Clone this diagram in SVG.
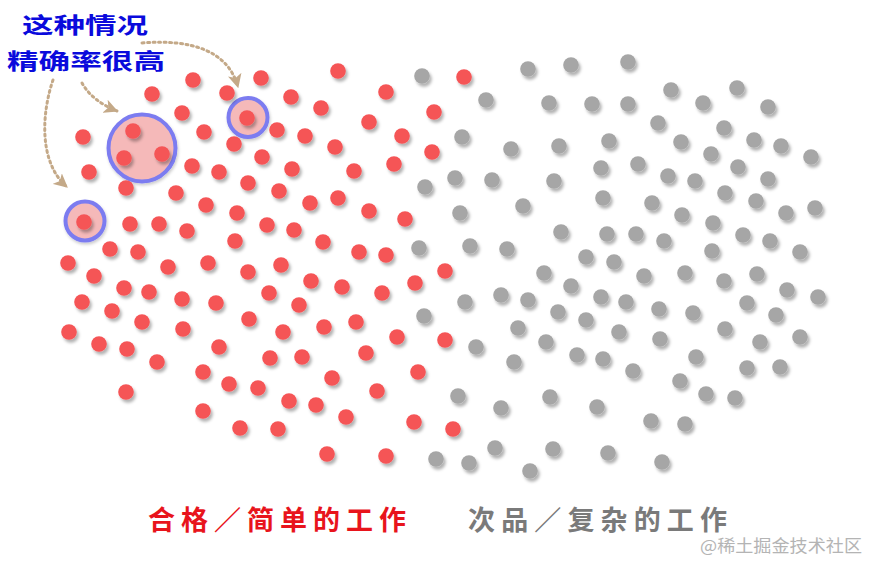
<svg xmlns="http://www.w3.org/2000/svg" width="880" height="573" viewBox="0 0 880 573">
<defs>
<filter id="sh" x="-50%" y="-50%" width="200%" height="200%">
<feDropShadow dx="2" dy="3" stdDeviation="1.8" flood-color="#000" flood-opacity="0.3"/>
</filter>
<filter id="sh2" x="-20%" y="-20%" width="140%" height="140%">
<feDropShadow dx="1" dy="2" stdDeviation="1.5" flood-color="#000" flood-opacity="0.2"/>
</filter>
<marker id="ah" viewBox="0 0 12 12" refX="11" refY="6" markerUnits="userSpaceOnUse" markerWidth="14" markerHeight="14" orient="auto">
<path d="M0,0 L12,6 L0,12 L3,6 z" fill="#c4a988"/>
</marker>
</defs>
<style>
.r{fill:#f55456;filter:url(#sh)}
.g{fill:#a6a6a6;filter:url(#sh)}
.hl{fill:#f5b9b9;stroke:#7c7cf0;stroke-width:4;filter:url(#sh2)}
.ar{fill:none;stroke:#c4a988;stroke-width:3;stroke-dasharray:2 3.5;stroke-linecap:round;marker-end:url(#ah)}
.cj{font-family:"Noto Sans CJK SC","Noto Sans",sans-serif;font-weight:700}
</style>
<rect width="880" height="573" fill="#fff"/>

<g id="highlights">
<circle class="hl" cx="142" cy="148" r="33.5"/>
<circle class="hl" cx="248" cy="117.5" r="19.5"/>
<circle class="hl" cx="85" cy="221" r="19.5"/>
</g>

<g id="connectors">
<path class="ar" d="M53,80 C42,112 38,162 67,187"/>
<path class="ar" d="M82,83 Q92,101 117,111"/>
<path class="ar" d="M142,43 C190,39 228,50 238,87"/>
</g>

<g id="good">
<circle class="r" cx="193" cy="80" r="7.8"/><circle class="r" cx="261" cy="78" r="7.8"/><circle class="r" cx="152" cy="94" r="7.8"/><circle class="r" cx="227" cy="93" r="7.8"/><circle class="r" cx="291" cy="97" r="7.8"/><circle class="r" cx="182" cy="113" r="7.8"/><circle class="r" cx="247" cy="118" r="7.8"/><circle class="r" cx="83" cy="137" r="7.8"/><circle class="r" cx="133" cy="131" r="7.8"/><circle class="r" cx="204" cy="132" r="7.8"/><circle class="r" cx="277" cy="130" r="7.8"/><circle class="r" cx="124" cy="158" r="7.8"/><circle class="r" cx="162" cy="154" r="7.8"/><circle class="r" cx="234" cy="144" r="7.8"/><circle class="r" cx="305" cy="136" r="7.8"/><circle class="r" cx="89" cy="172" r="7.8"/><circle class="r" cx="192" cy="166" r="7.8"/><circle class="r" cx="219" cy="172" r="7.8"/><circle class="r" cx="262" cy="157" r="7.8"/><circle class="r" cx="292" cy="169" r="7.8"/><circle class="r" cx="126" cy="188" r="7.8"/><circle class="r" cx="176" cy="193" r="7.8"/><circle class="r" cx="248" cy="183" r="7.8"/><circle class="r" cx="279" cy="191" r="7.8"/><circle class="r" cx="206" cy="205" r="7.8"/><circle class="r" cx="237" cy="213" r="7.8"/><circle class="r" cx="84" cy="222" r="7.8"/><circle class="r" cx="130" cy="224" r="7.8"/><circle class="r" cx="159" cy="224" r="7.8"/><circle class="r" cx="187" cy="231" r="7.8"/><circle class="r" cx="267" cy="225" r="7.8"/><circle class="r" cx="294" cy="230" r="7.8"/><circle class="r" cx="235" cy="241" r="7.8"/><circle class="r" cx="110" cy="249" r="7.8"/><circle class="r" cx="138" cy="252" r="7.8"/>
<circle class="r" cx="338" cy="71" r="7.8"/><circle class="r" cx="464" cy="77" r="7.8"/><circle class="r" cx="386" cy="92" r="7.8"/><circle class="r" cx="321" cy="108" r="7.8"/><circle class="r" cx="434" cy="112" r="7.8"/><circle class="r" cx="369" cy="122" r="7.8"/><circle class="r" cx="402" cy="136" r="7.8"/><circle class="r" cx="335" cy="147" r="7.8"/><circle class="r" cx="432" cy="152" r="7.8"/><circle class="r" cx="354" cy="171" r="7.8"/><circle class="r" cx="394" cy="164" r="7.8"/><circle class="r" cx="310" cy="203" r="7.8"/><circle class="r" cx="338" cy="198" r="7.8"/><circle class="r" cx="369" cy="211" r="7.8"/><circle class="r" cx="405" cy="219" r="7.8"/><circle class="r" cx="323" cy="242" r="7.8"/><circle class="r" cx="359" cy="252" r="7.8"/><circle class="r" cx="386" cy="255" r="7.8"/>
<circle class="r" cx="68" cy="263" r="7.8"/><circle class="r" cx="168" cy="267" r="7.8"/><circle class="r" cx="208" cy="263" r="7.8"/><circle class="r" cx="248" cy="272" r="7.8"/><circle class="r" cx="281" cy="265" r="7.8"/><circle class="r" cx="94" cy="276" r="7.8"/><circle class="r" cx="124" cy="288" r="7.8"/><circle class="r" cx="149" cy="292" r="7.8"/><circle class="r" cx="182" cy="299" r="7.8"/><circle class="r" cx="216" cy="303" r="7.8"/><circle class="r" cx="269" cy="293" r="7.8"/><circle class="r" cx="299" cy="305" r="7.8"/><circle class="r" cx="82" cy="302" r="7.8"/><circle class="r" cx="112" cy="311" r="7.8"/><circle class="r" cx="142" cy="322" r="7.8"/><circle class="r" cx="183" cy="329" r="7.8"/><circle class="r" cx="249" cy="319" r="7.8"/><circle class="r" cx="283" cy="332" r="7.8"/><circle class="r" cx="69" cy="332" r="7.8"/><circle class="r" cx="99" cy="344" r="7.8"/><circle class="r" cx="127" cy="349" r="7.8"/><circle class="r" cx="219" cy="347" r="7.8"/><circle class="r" cx="270" cy="358" r="7.8"/><circle class="r" cx="302" cy="357" r="7.8"/><circle class="r" cx="157" cy="362" r="7.8"/><circle class="r" cx="203" cy="372" r="7.8"/><circle class="r" cx="229" cy="384" r="7.8"/><circle class="r" cx="258" cy="388" r="7.8"/><circle class="r" cx="289" cy="401" r="7.8"/><circle class="r" cx="126" cy="392" r="7.8"/><circle class="r" cx="203" cy="411" r="7.8"/><circle class="r" cx="240" cy="428" r="7.8"/><circle class="r" cx="278" cy="429" r="7.8"/>
<circle class="r" cx="445" cy="271" r="7.8"/><circle class="r" cx="311" cy="281" r="7.8"/><circle class="r" cx="342" cy="287" r="7.8"/><circle class="r" cx="382" cy="293" r="7.8"/><circle class="r" cx="415" cy="283" r="7.8"/><circle class="r" cx="324" cy="327" r="7.8"/><circle class="r" cx="356" cy="322" r="7.8"/><circle class="r" cx="397" cy="337" r="7.8"/><circle class="r" cx="445" cy="340" r="7.8"/><circle class="r" cx="366" cy="353" r="7.8"/><circle class="r" cx="332" cy="378" r="7.8"/><circle class="r" cx="418" cy="372" r="7.8"/><circle class="r" cx="377" cy="391" r="7.8"/><circle class="r" cx="316" cy="405" r="7.8"/><circle class="r" cx="346" cy="417" r="7.8"/><circle class="r" cx="414" cy="422" r="7.8"/><circle class="r" cx="453" cy="429" r="7.8"/><circle class="r" cx="327" cy="454" r="7.8"/><circle class="r" cx="386" cy="456" r="7.8"/>
</g>

<g id="bad">
<circle class="g" cx="422" cy="76" r="7.8"/><circle class="g" cx="528" cy="69" r="7.8"/><circle class="g" cx="571" cy="65" r="7.8"/><circle class="g" cx="486" cy="100" r="7.8"/><circle class="g" cx="549" cy="103" r="7.8"/><circle class="g" cx="462" cy="137" r="7.8"/><circle class="g" cx="511" cy="149" r="7.8"/><circle class="g" cx="559" cy="146" r="7.8"/><circle class="g" cx="425" cy="187" r="7.8"/><circle class="g" cx="455" cy="178" r="7.8"/><circle class="g" cx="492" cy="180" r="7.8"/><circle class="g" cx="554" cy="181" r="7.8"/><circle class="g" cx="460" cy="213" r="7.8"/><circle class="g" cx="523" cy="206" r="7.8"/><circle class="g" cx="561" cy="232" r="7.8"/><circle class="g" cx="419" cy="248" r="7.8"/><circle class="g" cx="470" cy="246" r="7.8"/><circle class="g" cx="507" cy="249" r="7.8"/><circle class="g" cx="586" cy="257" r="7.8"/>
<circle class="g" cx="628" cy="62" r="7.8"/><circle class="g" cx="671" cy="90" r="7.8"/><circle class="g" cx="737" cy="88" r="7.8"/><circle class="g" cx="592" cy="104" r="7.8"/><circle class="g" cx="628" cy="104" r="7.8"/><circle class="g" cx="703" cy="103" r="7.8"/><circle class="g" cx="768" cy="107" r="7.8"/><circle class="g" cx="658" cy="123" r="7.8"/><circle class="g" cx="724" cy="128" r="7.8"/><circle class="g" cx="609" cy="141" r="7.8"/><circle class="g" cx="681" cy="142" r="7.8"/><circle class="g" cx="754" cy="140" r="7.8"/><circle class="g" cx="781" cy="146" r="7.8"/><circle class="g" cx="711" cy="154" r="7.8"/><circle class="g" cx="811" cy="157" r="7.8"/><circle class="g" cx="601" cy="168" r="7.8"/><circle class="g" cx="638" cy="164" r="7.8"/><circle class="g" cx="668" cy="176" r="7.8"/><circle class="g" cx="695" cy="181" r="7.8"/><circle class="g" cx="738" cy="167" r="7.8"/><circle class="g" cx="768" cy="179" r="7.8"/><circle class="g" cx="603" cy="198" r="7.8"/><circle class="g" cx="652" cy="203" r="7.8"/><circle class="g" cx="682" cy="215" r="7.8"/><circle class="g" cx="725" cy="193" r="7.8"/><circle class="g" cx="756" cy="201" r="7.8"/><circle class="g" cx="786" cy="213" r="7.8"/><circle class="g" cx="815" cy="208" r="7.8"/><circle class="g" cx="607" cy="234" r="7.8"/><circle class="g" cx="636" cy="234" r="7.8"/><circle class="g" cx="664" cy="241" r="7.8"/><circle class="g" cx="713" cy="223" r="7.8"/><circle class="g" cx="743" cy="235" r="7.8"/><circle class="g" cx="770" cy="241" r="7.8"/><circle class="g" cx="800" cy="252" r="7.8"/><circle class="g" cx="712" cy="251" r="7.8"/><circle class="g" cx="614" cy="262" r="7.8"/>
<circle class="g" cx="544" cy="273" r="7.8"/><circle class="g" cx="571" cy="286" r="7.8"/><circle class="g" cx="465" cy="302" r="7.8"/><circle class="g" cx="501" cy="295" r="7.8"/><circle class="g" cx="528" cy="300" r="7.8"/><circle class="g" cx="558" cy="312" r="7.8"/><circle class="g" cx="586" cy="320" r="7.8"/><circle class="g" cx="424" cy="316" r="7.8"/><circle class="g" cx="476" cy="347" r="7.8"/><circle class="g" cx="518" cy="328" r="7.8"/><circle class="g" cx="546" cy="342" r="7.8"/><circle class="g" cx="577" cy="355" r="7.8"/><circle class="g" cx="514" cy="362" r="7.8"/><circle class="g" cx="458" cy="396" r="7.8"/><circle class="g" cx="501" cy="408" r="7.8"/><circle class="g" cx="550" cy="397" r="7.8"/><circle class="g" cx="436" cy="459" r="7.8"/><circle class="g" cx="469" cy="463" r="7.8"/><circle class="g" cx="495" cy="448" r="7.8"/><circle class="g" cx="553" cy="449" r="7.8"/><circle class="g" cx="530" cy="471" r="7.8"/>
<circle class="g" cx="644" cy="276" r="7.8"/><circle class="g" cx="685" cy="273" r="7.8"/><circle class="g" cx="724" cy="281" r="7.8"/><circle class="g" cx="757" cy="274" r="7.8"/><circle class="g" cx="787" cy="290" r="7.8"/><circle class="g" cx="818" cy="297" r="7.8"/><circle class="g" cx="601" cy="297" r="7.8"/><circle class="g" cx="626" cy="302" r="7.8"/><circle class="g" cx="659" cy="309" r="7.8"/><circle class="g" cx="693" cy="313" r="7.8"/><circle class="g" cx="747" cy="303" r="7.8"/><circle class="g" cx="776" cy="315" r="7.8"/><circle class="g" cx="619" cy="332" r="7.8"/><circle class="g" cx="660" cy="339" r="7.8"/><circle class="g" cx="725" cy="329" r="7.8"/><circle class="g" cx="760" cy="342" r="7.8"/><circle class="g" cx="800" cy="337" r="7.8"/><circle class="g" cx="603" cy="359" r="7.8"/><circle class="g" cx="633" cy="371" r="7.8"/><circle class="g" cx="696" cy="357" r="7.8"/><circle class="g" cx="747" cy="368" r="7.8"/><circle class="g" cx="780" cy="367" r="7.8"/><circle class="g" cx="680" cy="381" r="7.8"/><circle class="g" cx="706" cy="394" r="7.8"/><circle class="g" cx="735" cy="398" r="7.8"/><circle class="g" cx="597" cy="407" r="7.8"/><circle class="g" cx="651" cy="421" r="7.8"/><circle class="g" cx="685" cy="424" r="7.8"/><circle class="g" cx="608" cy="453" r="7.8"/><circle class="g" cx="662" cy="462" r="7.8"/>
</g>

<g id="note">
<text class="cj" x="22" y="33" font-size="22" fill="#0a0adc" textLength="126" lengthAdjust="spacingAndGlyphs">这种情况</text>
<text class="cj" x="7" y="69" font-size="22" fill="#0a0adc" textLength="158" lengthAdjust="spacingAndGlyphs">精确率很高</text>
</g>
<g id="legend">
<text class="cj" x="148" y="530" font-size="27" fill="#e8141c" textLength="258" lengthAdjust="spacing">合格／简单的工作</text>
<text class="cj" x="468" y="530" font-size="27" fill="#7a7a7a" textLength="259" lengthAdjust="spacing">次品／复杂的工作</text>
</g>
<text x="700" y="552" font-family="'Noto Sans CJK SC',sans-serif" font-size="17" fill="#b4b4b4" textLength="162" lengthAdjust="spacingAndGlyphs">@稀土掘金技术社区</text>
</svg>
